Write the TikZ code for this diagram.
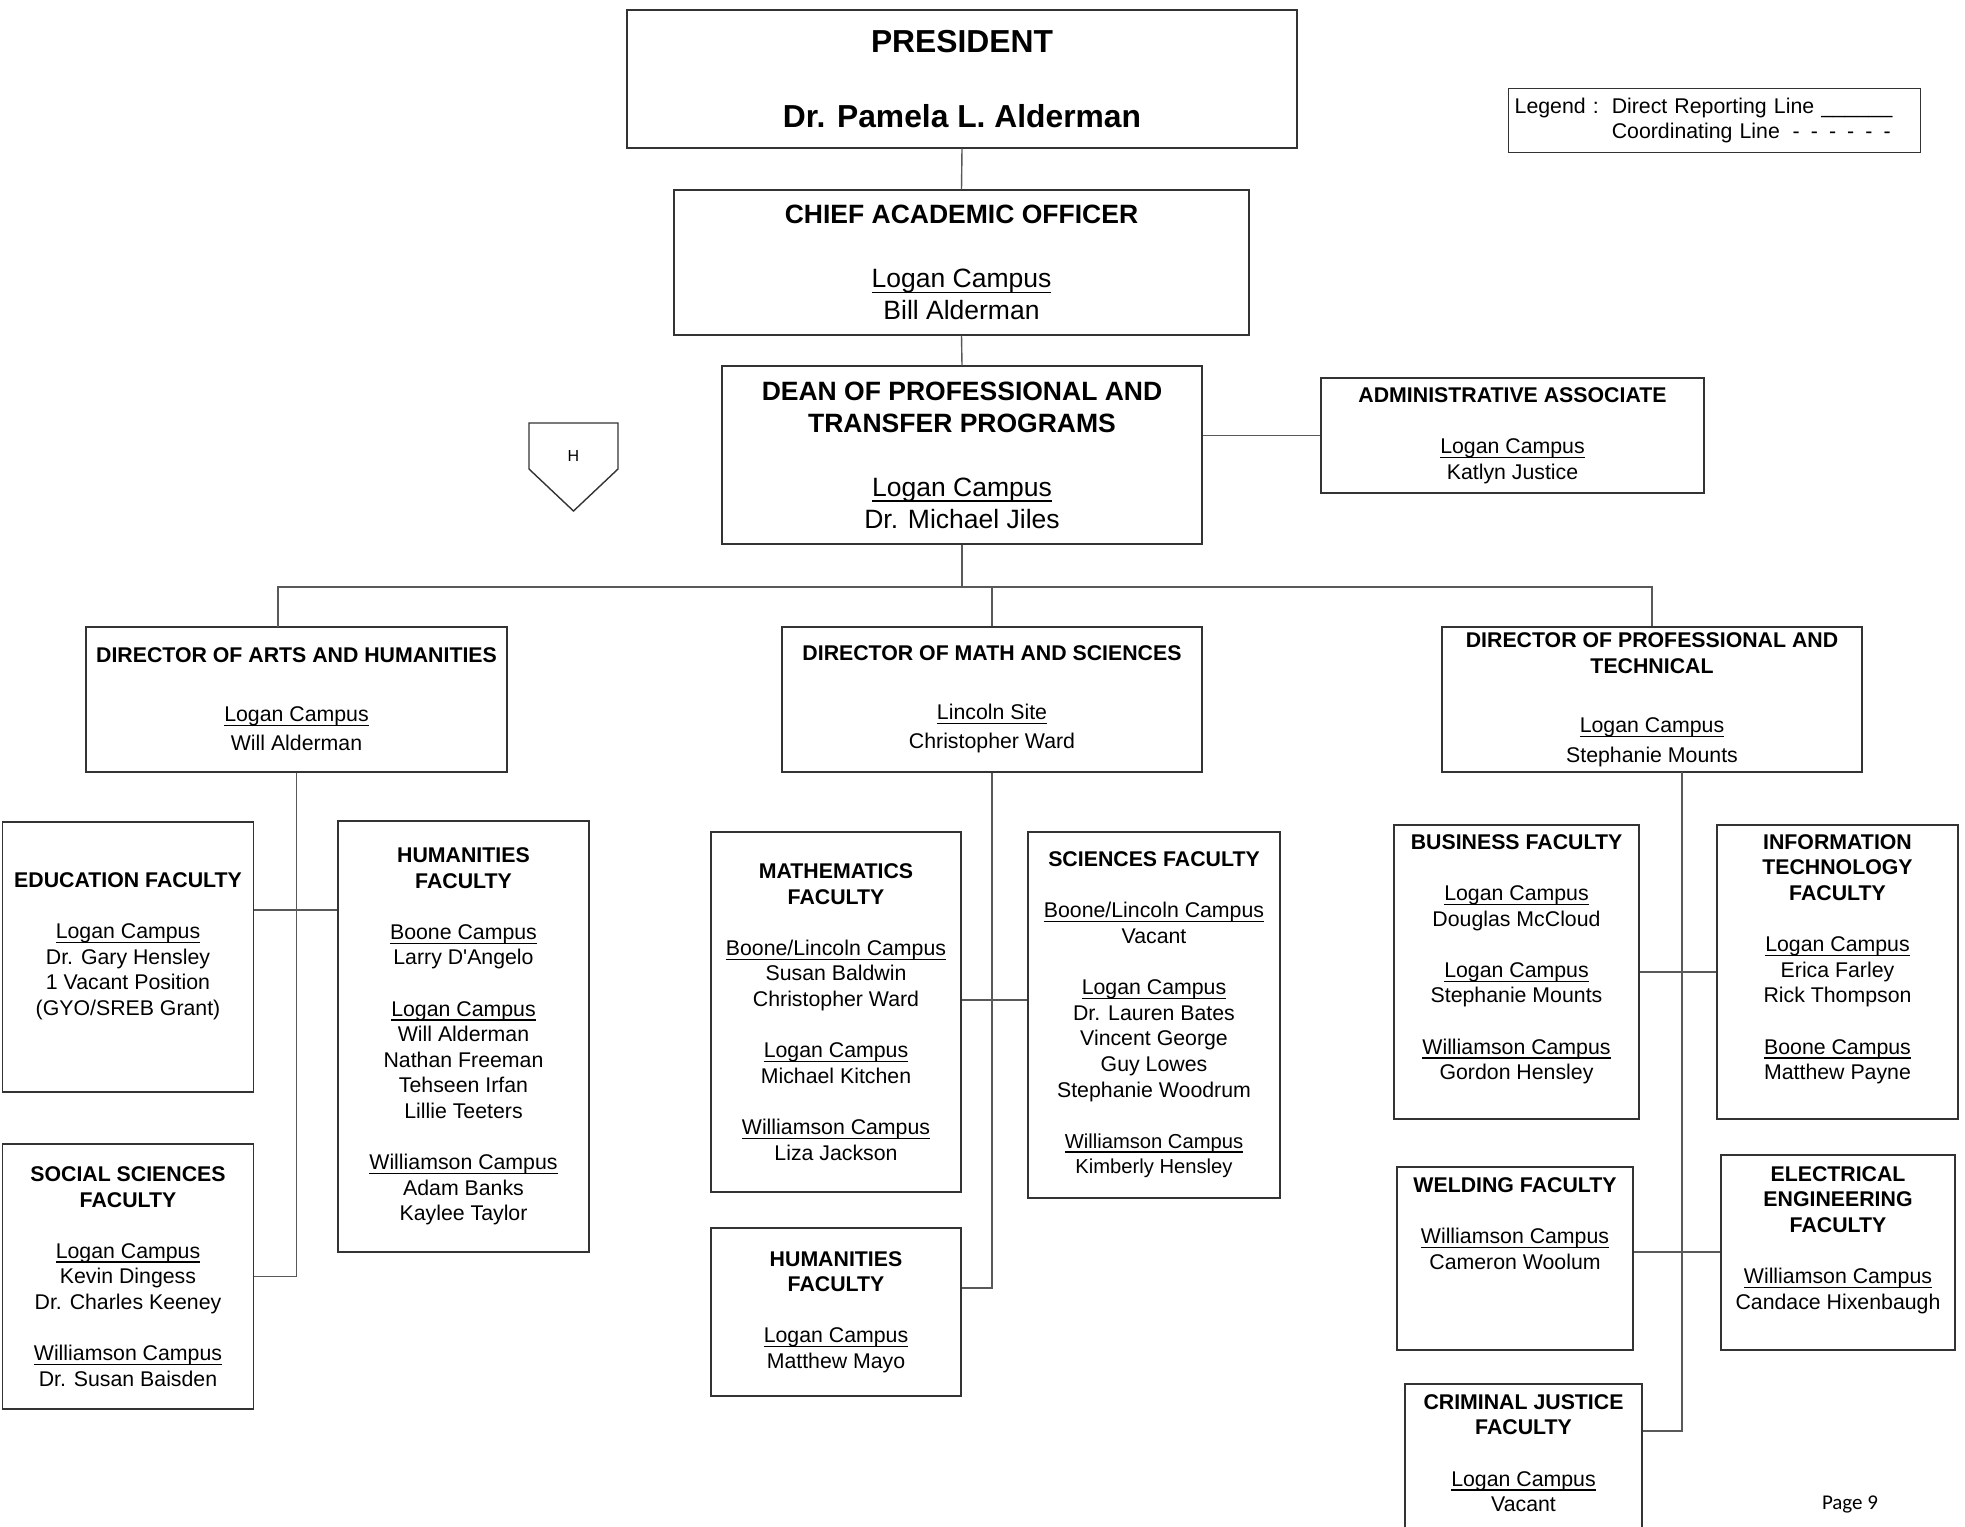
\documentclass[tikz,border=0pt]{standalone}
\usepackage{fontspec}
\setmainfont{Liberation Sans}
\newfontfamily\pagefont{Carlito}
\newcommand\campus[1]{\setbox0=\hbox{#1}\rlap{\rule[-0.21em]{\wd0}{0.06em}}\box0}
\newcommand\smallish{\fontsize{10.1}{12.8}\selectfont}

\begin{document}
\begin{tikzpicture}[
  x=0.5pt,
  y=-0.5pt,
  outline/.style={
    draw=black!80,
    line width=0.7pt
  },
  post/.style={
    outline,
    align=center,
    inner sep=2pt,
    font=\fontsize{10.65}{12.8}\selectfont
  },
  boxsz/.style 2 args={
    minimum width=#1*0.5pt,
    minimum height=#2*0.5pt
  },
  head post/.style={
    post,
    font=\fontsize{13.25}{16}\selectfont
  },
  top post/.style={
    post,
    font=\bfseries\fontsize{15.9}{18.8}\selectfont
  },
  director post/.style={
    post,
    font=\fontsize{10.65}{14.7}\selectfont
  },
  lift/.style={
    text depth=#1
  },
  link/.style={
    draw=black!65,
    line width=0.7pt
  },
]
\useasboundingbox (0,0) rectangle (1965,1526);

% top of the chart
\node[top post, boxsz={670}{138}] (pres) at (962,79)
  {PRESIDENT\\[18.8pt]Dr. Pamela L. Alderman};
\node[head post, boxsz={575}{145}] (cao) at (961.5,262.5)
  {\textbf{CHIEF ACADEMIC OFFICER}\\[16pt]\campus{Logan Campus}\\Bill Alderman};
\node[head post, boxsz={480}{178}] (dean) at (962,455)
  {\textbf{DEAN OF PROFESSIONAL AND}\\\textbf{TRANSFER PROGRAMS}\\[16pt]\campus{Logan Campus}\\Dr. Michael Jiles};
\node[post, boxsz={383}{115}] (admin) at (1512.5,435.5)
  {\textbf{ADMINISTRATIVE ASSOCIATE}\\[12.8pt]\campus{Logan Campus}\\Katlyn Justice};
\node[outline, anchor=north west, minimum height=32pt, text width=200pt,
  inner xsep=3pt, inner ysep=2pt, align=left,
  font=\fontsize{10.65}{12.5}\selectfont] (legend) at (1508,88)
  {\begin{tabular}{@{}l@{\hspace{6.5pt}}l@{}}
   Legend : & Direct Reporting Line \_\_\_\_\_\_\\
            & Coordinating Line\hspace{0.6em}-\hspace{0.52em}-\hspace{0.52em}-\hspace{0.52em}-\hspace{0.52em}-\hspace{0.52em}-
   \end{tabular}};

\draw[outline] (529,423) -- (618,423) -- (618,469) -- (573.5,511) -- (529,469) -- cycle;
\node[font=\fontsize{8}{9.6}\selectfont] (hmark) at (573.5,456) {H};

% directors
\node[director post, boxsz={421}{145}] (dirAH) at (296.5,699.5)
  {\textbf{DIRECTOR OF ARTS AND HUMANITIES}\\[14.7pt]\campus{Logan Campus}\\Will Alderman};
\node[director post, boxsz={420}{145}] (dirMS) at (992,699.5)
  {\textbf{DIRECTOR OF MATH AND SCIENCES}\\[14.7pt]\campus{Lincoln Site}\\Christopher Ward};
\node[director post, boxsz={420}{145}] (dirPT) at (1652,699.5)
  {\textbf{DIRECTOR OF PROFESSIONAL AND}\\[-1.5pt]\textbf{TECHNICAL}\\[14.7pt]\campus{Logan Campus}\\Stephanie Mounts};

% arts and humanities
\node[post, boxsz={251}{270}, lift=12.9pt] (edu) at (128,957)
  {\textbf{EDUCATION FACULTY}\\[12.8pt]\campus{Logan Campus}\\Dr. Gary Hensley\\1 Vacant Position\\(GYO/SREB Grant)};
\node[post, boxsz={251}{431}] (humL) at (463.5,1036.5)
  {\textbf{HUMANITIES}\\\textbf{FACULTY}\\[12.8pt]\campus{Boone Campus}\\Larry D\textquotesingle Angelo\\[12.8pt]\campus{Logan Campus}\\Will Alderman\\Nathan Freeman\\Tehseen Irfan\\Lillie Teeters\\[12.8pt]\campus{Williamson Campus}\\Adam Banks\\Kaylee Taylor};
\node[post, boxsz={251}{265}] (soc) at (128,1276.5)
  {\textbf{SOCIAL SCIENCES}\\\textbf{FACULTY}\\[12.8pt]\campus{Logan Campus}\\Kevin Dingess\\Dr. Charles Keeney\\[12.8pt]\campus{Williamson Campus}\\Dr. Susan Baisden};

% math and sciences
\node[post, boxsz={250}{360}] (math) at (836,1012)
  {\textbf{MATHEMATICS}\\\textbf{FACULTY}\\[12.8pt]\campus{Boone/Lincoln Campus}\\Susan Baldwin\\Christopher Ward\\[12.8pt]\campus{Logan Campus}\\Michael Kitchen\\[12.8pt]\campus{Williamson Campus}\\Liza Jackson};
\node[post, boxsz={252}{366}] (sci) at (1154,1015)
  {\textbf{SCIENCES FACULTY}\\[12.8pt]\campus{Boone/Lincoln Campus}\\Vacant\\[12.8pt]\campus{Logan Campus}\\Dr. Lauren Bates\\Vincent George\\Guy Lowes\\Stephanie Woodrum\\[12.8pt]{\smallish\campus{Williamson Campus}}\\{\smallish Kimberly Hensley}};
\node[post, boxsz={250}{168}] (humM) at (836,1312)
  {\textbf{HUMANITIES}\\\textbf{FACULTY}\\[12.8pt]\campus{Logan Campus}\\Matthew Mayo};

% professional and technical
\node[post, boxsz={245}{294}, lift=14.9pt] (busfac) at (1516.5,972)
  {\textbf{BUSINESS FACULTY}\\[12.8pt]\campus{Logan Campus}\\Douglas McCloud\\[12.8pt]\campus{Logan Campus}\\Stephanie Mounts\\[12.8pt]\campus{Williamson Campus}\\Gordon Hensley};
\node[post, boxsz={241}{294}, lift=14.9pt] (itfac) at (1837.5,972)
  {\textbf{INFORMATION}\\\textbf{TECHNOLOGY}\\\textbf{FACULTY}\\[12.8pt]\campus{Logan Campus}\\Erica Farley\\Rick Thompson\\[12.8pt]\campus{Boone Campus}\\Matthew Payne};
\node[post, boxsz={236}{183}, lift=35pt] (weld) at (1515,1258.5)
  {\textbf{WELDING FACULTY}\\[12.8pt]\campus{Williamson Campus}\\Cameron Woolum};
\node[post, boxsz={234}{195}, lift=14.9pt] (elec) at (1838,1252.5)
  {\textbf{ELECTRICAL}\\\textbf{ENGINEERING}\\\textbf{FACULTY}\\[12.8pt]\campus{Williamson Campus}\\Candace Hixenbaugh};
\node[post, boxsz={237}{220}, lift=41pt] (crim) at (1523.5,1494)
  {\textbf{CRIMINAL JUSTICE}\\\textbf{FACULTY}\\[12.8pt]\campus{Logan Campus}\\Vacant};

\node[font=\pagefont\fontsize{10.5}{12}\selectfont] (pagenum) at (1850,1504) {Page 9};

% reporting lines
\coordinate (hub) at (962,587);
\coordinate (ahtop) at (278,627);
\coordinate (ahjoin) at (296.5,910);
\coordinate (msjoin) at (992,1000);
\coordinate (msend) at (992,1288);
\coordinate (ptfoot) at (1682,772);
\coordinate (ptweld) at (1682,1252);
\coordinate (ptend) at (1682,1431);

\draw[link] (pres.south) -- (cao.north);
\draw[link] (cao.south) -- (dean.north);
\draw[link] (dean.east |- admin.west) -- (admin.west);
\draw[link] (dean.south) -- (hub);
\draw[link] (ahtop) |- (dirPT.north |- hub) -- (dirPT.north);
\draw[link] (dirMS.north) -- (dirMS.north |- hub);

\draw[link] (dirAH.south) |- (soc.east);
\draw[link] (edu.east |- ahjoin) -- (humL.west |- ahjoin);

\draw[link] (dirMS.south) -- (msend) -- (humM.east |- msend);
\draw[link] (math.east |- msjoin) -- (sci.west |- msjoin);

\draw[link] (ptfoot) -- (ptend) -- (crim.east |- ptend);
\draw[link] (busfac.east) -- (itfac.west);
\draw[link] (weld.east |- ptweld) -- (elec.west |- ptweld);
\end{tikzpicture}
\end{document}
